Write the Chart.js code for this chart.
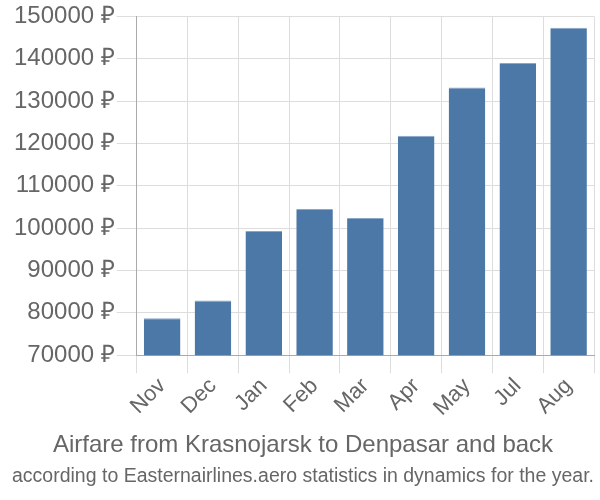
<!DOCTYPE html>
<html>
<head>
<meta charset="utf-8">
<script src="https://cdn.jsdelivr.net/npm/chart.js@4/dist/chart.umd.min.js"></script>
<style>
  html, body { margin: 0; padding: 0; background: #fff; }
  #wrap { width: 600px; height: 500px; }
</style>
</head>
<body>
<div id="wrap"><canvas id="chart" width="600" height="500"></canvas></div>
<script>
const months = ['Nov', 'Dec', 'Jan', 'Feb', 'Mar', 'Apr', 'May', 'Jul', 'Aug'];
const prices = [78700, 82900, 99300, 104500, 102400, 121800, 133200, 139000, 147300];
const yMin = 70000;
const yMax = 150000;
const yStep = 10000;

const grid = '#dddddd';
const axisColor = '#aaaaaa';
const text = '#666666';
const sans = '"Liberation Sans", Arial, sans-serif';

// bottom position: title is drawn outermost, subtitle sits between it and the chart
new Chart(document.getElementById('chart').getContext('2d'), {
  type: 'bar',
  data: {
    labels: months,
    datasets: [{
      data: prices,
      backgroundColor: '#4c78a8',
      borderColor: '#8aa6c8',
      borderWidth: { top: 1, left: 0, right: 0, bottom: 0 },
      borderSkipped: false,
      categoryPercentage: 1,
      barPercentage: 0.72,
    }],
  },
  options: {
    responsive: false,
    animation: false,
    layout: { padding: { left: 12, right: 6, top: 0, bottom: 12 } },
    plugins: {
      legend: { display: false },
      tooltip: { enabled: false },
      title: {
        display: true,
        position: 'bottom',
        text: 'according to Easternairlines.aero statistics in dynamics for the year.',
        color: text,
        font: { family: '"Liberation Sans Narrow", "Liberation Sans", sans-serif', size: 20, weight: 'normal' },
        padding: { top: 4, bottom: 0 },
      },
      subtitle: {
        display: true,
        position: 'bottom',
        text: 'Airfare from Krasnojarsk to Denpasar and back',
        color: text,
        font: { family: sans, size: 24 },
        padding: { top: 10, bottom: 0 },
      },
    },
    scales: {
      x: {
        offset: true,
        grid: { color: grid, offset: true, tickLength: 18 },
        border: { color: axisColor },
        ticks: {
          color: text,
          font: { family: sans, size: 22 },
          maxRotation: 45,
          minRotation: 45,
          padding: 0,
        },
      },
      y: {
        min: yMin,
        max: yMax,
        grid: { color: grid, tickLength: 20 },
        border: { color: axisColor },
        ticks: {
          stepSize: yStep,
          color: text,
          font: { family: sans, size: 24 },
          padding: 2,
          callback: v => v + ' ₽',
        },
      },
    },
  },
});
</script>
</body>
</html>
